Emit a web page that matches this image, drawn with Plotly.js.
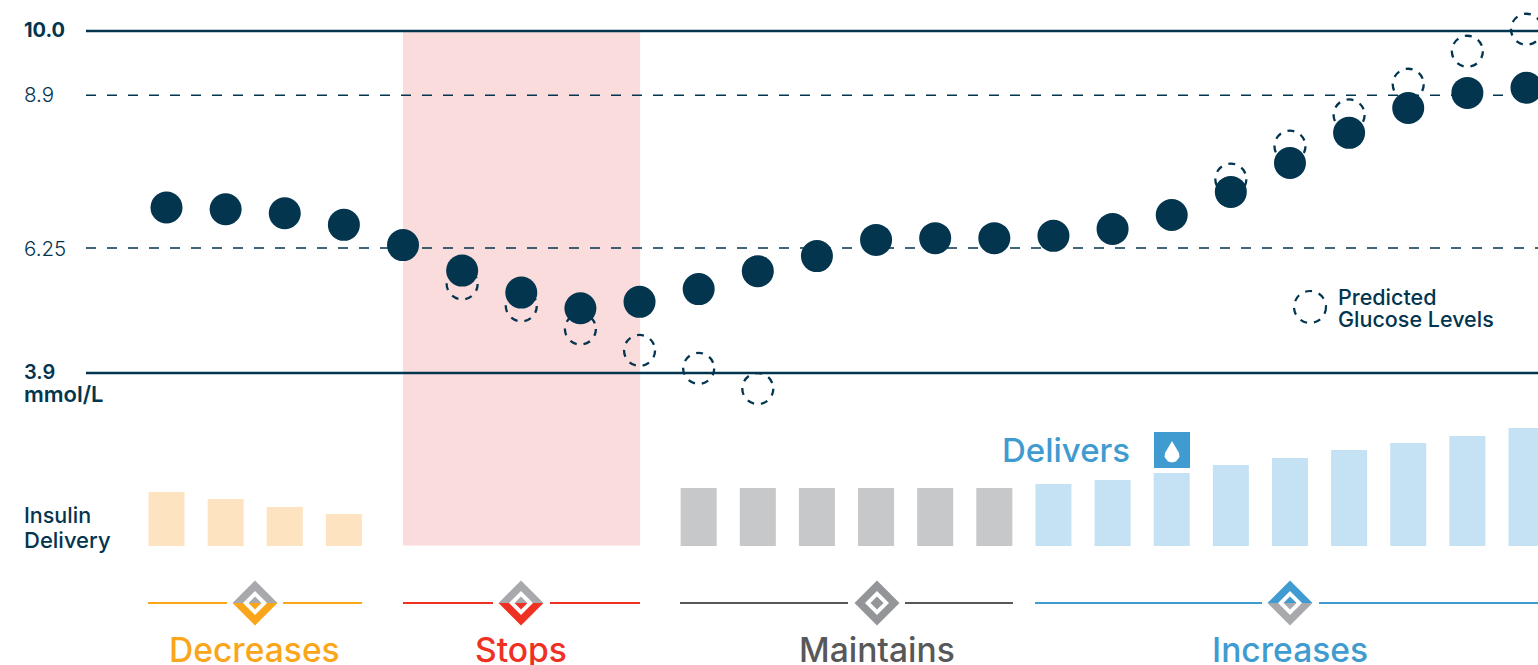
<!DOCTYPE html>
<html><head><meta charset="utf-8">
<style>html,body{margin:0;padding:0;background:#fff;overflow:hidden}#c{width:1538px;height:665px}</style>
<script src="https://cdn.plot.ly/plotly-3.0.1.min.js"></script></head>
<body><div id="c"></div>
<script>
// --- data ---
const slots = [0,1,2,3,4,5,6,7,8,9,10,11,12,13,14,15,16,17,18,19,20,21,22,23];
const glucose = [6.95,6.92,6.85,6.65,6.30,5.86,5.48,5.21,5.32,5.54,5.85,6.11,6.39,6.42,6.42,6.46,6.58,6.82,7.22,7.72,8.24,8.67,8.93,9.02];
const predictedSlots = [5,6,7,8,9,10,18,19,20,21,22,23];
const predicted = [5.63,5.25,4.85,4.48,4.17,3.82,7.44,8.01,8.55,9.08,9.65,10.03];
const decreaseSlots = [0,1,2,3];
const decreaseInsulin = [54,47,39,32];
const maintainSlots = [9,10,11,12,13,14];
const maintainInsulin = [58,58,58,58,58,58];
const increaseSlots = [15,16,17,18,19,20,21,22,23];
const increaseInsulin = [62,66,73,81,88,96,103,110,118];
const refLevels = [10,8.89,6.25,4.09];
const refLabels = ['10.0','8.9','6.25','3.9'];
const refStrong = [true,false,false,true];
const phaseNames = ['Decreases','Stops','Maintains','Increases'];

const NAVY='#03354f', W=1538, H=665, FONT='Inter, sans-serif';
const px = x=>x/W, py = y=>1-y/H;
const ORANGE='#faa61a',RED='#ef3124',GRAY='#a7a9ac',BLUE='#3f9bd0',DGRAY='#58585a',MGRAY='#939598';

function diamond(cx,cy,top,bottom){
  const p=(r,half)=>{
    const T=`${px(cx)},${py(cy-r)}`,B=`${px(cx)},${py(cy+r)}`,L=`${px(cx-r)},${py(cy)}`,R=`${px(cx+r)},${py(cy)}`;
    return half==='top'?`M${L} L${T} L${R} Z`:half==='bottom'?`M${L} L${B} L${R} Z`:`M${L} L${T} L${R} L${B} Z`;
  };
  const s=(path,fill)=>({type:'path',xref:'paper',yref:'paper',path,fillcolor:fill,line:{width:0},layer:'above'});
  return [s(p(22.5,'top'),top),s(p(22.5,'bottom'),bottom),s(p(12,'full'),'#fff'),s(p(6.5,'top'),top),s(p(6.5,'bottom'),bottom)];
}
function seg(x0,x1,c){return {type:'line',xref:'paper',yref:'paper',x0:px(x0),x1:px(x1),y0:py(603),y1:py(603),line:{color:c,width:2}};}

const shapes=[
  {type:'rect',layer:'below',xref:'x',yref:'paper',x0:4.0,x1:8.01,y0:py(545.5),y1:py(31),fillcolor:'#fbdcdd',line:{width:0}},
];
refLevels.forEach((v,i)=>shapes.push({type:'line',xref:'paper',yref:'y',x0:px(86),x1:1,y0:v,y1:v,layer:'below',
  line:{color:NAVY,width:refStrong[i]?2.4:1.3,dash:refStrong[i]?'solid':'10px,11px'}}));
shapes.push(seg(148,227,ORANGE),seg(283,362,ORANGE),seg(403,493,RED),seg(550,640,RED),seg(680,848,DGRAY),seg(905,1013,DGRAY),seg(1035,1262,BLUE),seg(1319,1538,BLUE));
shapes.push(...diamond(255,603,GRAY,ORANGE),...diamond(521,603,GRAY,RED),...diamond(877,603,MGRAY,MGRAY),...diamond(1290,603,BLUE,GRAY));
shapes.push({type:'rect',xref:'paper',yref:'paper',x0:px(1154),x1:px(1190),y0:py(468),y1:py(432),fillcolor:BLUE,line:{width:0},layer:'above'});
const dp=[[1172,441],[1179,453],[1179.5,457],[1176,461.5],[1172,462.5],[1168,461.5],[1164.5,457],[1165,453]];
shapes.push({type:'path',xref:'paper',yref:'paper',fillcolor:'#fff',line:{width:0},layer:'above',
  path:'M'+dp.map(d=>px(d[0])+','+py(d[1])).join(' L')+' Z'});
shapes.push({type:'circle',xref:'paper',yref:'paper',x0:px(1294),x1:px(1326),y0:py(323),y1:py(291),line:{color:NAVY,width:2.2,dash:'7px,7px'},layer:'above'});

const ann=(x,y,text,size,color,opt={})=>Object.assign({xref:'paper',yref:'paper',x:px(x),y:py(y),text,showarrow:false,xanchor:'left',yanchor:'middle',align:'left',
  font:{family:FONT,size,color,weight:opt.weight||500},borderpad:0,borderwidth:0},opt.extra||{});
const annotations=[
  ann(24,30,refLabels[0],20,NAVY,{weight:700}),
  ann(24,94,refLabels[1],20.5,NAVY,{weight:300}),
  ann(24,248,refLabels[2],20.5,NAVY,{weight:300}),
  ann(24,372,refLabels[3],20,NAVY,{weight:600}),
  ann(24,394,'mmol/L',22,NAVY,{weight:600}),
  ann(24,515,'Insulin',21.5,NAVY,{weight:500}),
  ann(24,540,'Delivery',22,NAVY,{weight:500}),
  ann(1338,297,'Predicted',21.5,NAVY,{weight:500}),
  ann(1338,319,'Glucose Levels',21.5,NAVY,{weight:500}),
  ann(1002,450,'Delivers',33,BLUE,{weight:500})
];
[[255,ORANGE],[521,RED],[877,DGRAY],[1290,BLUE]].forEach((d,i)=>annotations.push(ann(d[0],649,phaseNames[i],33.6,d[1],{weight:500,extra:{xanchor:'center'}})));

const bar=(x,y,c,name)=>({type:'bar',x,y,name,yaxis:'y2',width:0.609,marker:{color:c,line:{width:0}},hoverinfo:'x+y'});
const data=[
  bar(decreaseSlots,decreaseInsulin,'#fde3c0','Decreases'),
  bar(maintainSlots,maintainInsulin,'#c7c8ca','Maintains'),
  bar(increaseSlots,increaseInsulin,'#c5e2f5','Increases'),
  {type:'scatter',mode:'markers',x:predictedSlots,y:predicted,name:'Predicted Glucose Levels',
    marker:{symbol:'circle-open',size:31,color:NAVY,line:{color:NAVY,width:2.3}}},
  {type:'scatter',mode:'markers',x:slots,y:glucose,name:'Glucose',marker:{size:32,color:NAVY,line:{width:0}}}
];
const xStep=59.13;
const layout={width:W,height:H,margin:{l:0,r:0,t:0,b:0,pad:0},paper_bgcolor:'#fff',plot_bgcolor:'rgba(0,0,0,0)',showlegend:false,
  font:{family:FONT,color:NAVY},barmode:'overlay',
  xaxis:{range:[-166.5/xStep,(W-166.5)/xStep],visible:false,fixedrange:true},
  yaxis:{range:[10-634/57.87,10+31/57.87],visible:false,fixedrange:true},
  yaxis2:{range:[-119,546],overlaying:'y',visible:false,fixedrange:true},
  shapes,annotations};
Plotly.newPlot('c',data,layout,{displayModeBar:false,staticPlot:true}).then(gd=>{
  gd.querySelectorAll('.scatterlayer .trace')[0].querySelectorAll('path.point').forEach(p=>{p.style.strokeDasharray='7px,7px';});
});
</script></body></html>
